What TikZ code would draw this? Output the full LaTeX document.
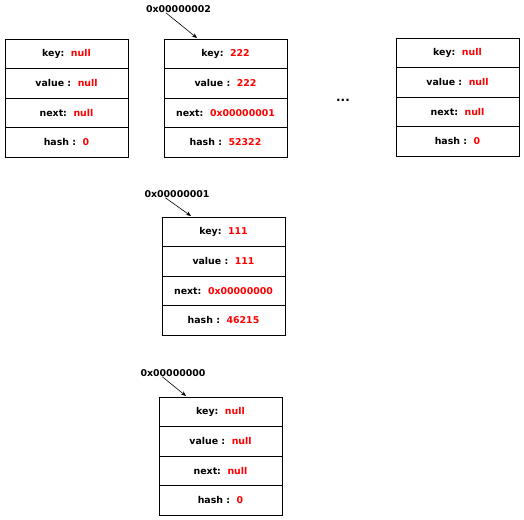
\documentclass[tikz,border=0pt]{standalone}
\usepackage{fontspec}
\newfontfamily\boxfont{DejaVu Sans}
\usetikzlibrary{arrows.meta, positioning}

\tikzset{
    cell/.style={draw, thick, minimum width=123pt, minimum height=29.5pt,
        inner sep=0pt, outer sep=0pt, font=\boxfont\bfseries\fontsize{9.4}{11}\selectfont},
    addr/.style={inner sep=0pt, font=\boxfont\bfseries\fontsize{9.4}{11}\selectfont},
    ptr/.style={-{Stealth[length=5pt, width=4pt]}, semithick}
}

\begin{document}
\begin{tikzpicture}[x=1pt, y=1pt]
    \useasboundingbox (0,0) rectangle (524,-519);

    % entries of the table and the chain
    \foreach \nm/\x/\y/\k/\v/\n/\h in {
        b1/5/39/null/null/null/0,
        b2/164/39/222/222/0x00000001/52322,
        b3/396/38/null/null/null/0,
        b4/162/217/111/111/0x00000000/46215,
        b5/159/397/null/null/null/0}
    {
        \node[cell] (\nm-k) at (\x+61.5,-\y-14.75) {key:\ \ \textcolor{red}{\k}};
        \node[cell, below=0pt of \nm-k] (\nm-v) {value :\ \ \textcolor{red}{\v}};
        \node[cell, below=0pt of \nm-v] (\nm-n) {next:\ \ \textcolor{red}{\n}};
        \node[cell, below=0pt of \nm-n] (\nm-h) {hash :\ \ \textcolor{red}{\h}};
    }

    \node[addr, font=\boxfont\bfseries\fontsize{12}{12}\selectfont] (dots) at (343,-100) {...};

    % addresses
    \node[addr] (a2) at (178.5,-9) {0x00000002};
    \node[addr] (a1) at (177,-194) {0x00000001};
    \node[addr] (a0) at (173,-373) {0x00000000};

    \draw[ptr] ([xshift=20pt]a2.south west) -- ([xshift=33pt, yshift=1pt]b2-k.north west);
    \draw[ptr] ([xshift=21pt]a1.south west) -- ([xshift=29pt, yshift=1pt]b4-k.north west);
    \draw[ptr] ([xshift=22pt]a0.south west) -- ([xshift=27pt, yshift=1pt]b5-k.north west);
\end{tikzpicture}
\end{document}
